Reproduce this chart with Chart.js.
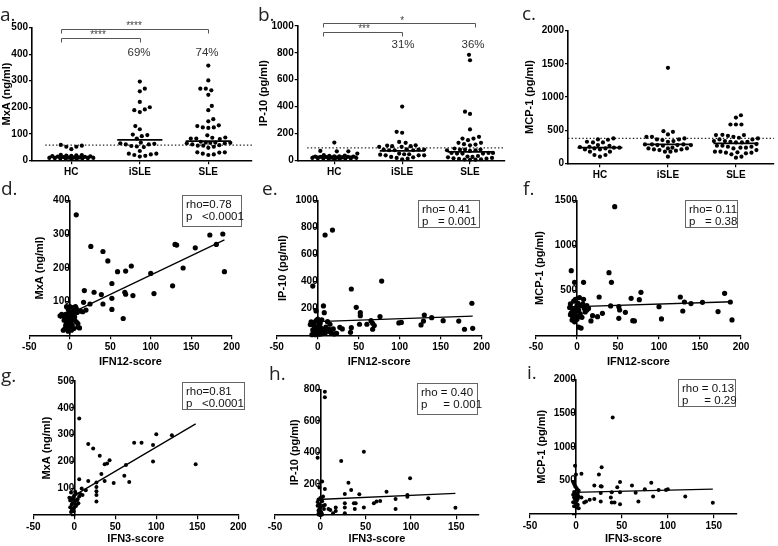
<!DOCTYPE html>
<html><head><meta charset="utf-8">
<script src="https://cdn.jsdelivr.net/npm/chart.js"></script>
<style>
html,body{margin:0;padding:0;background:#fff}
body{width:778px;height:546px;position:relative;overflow:hidden;font-family:"Liberation Sans",Arial,sans-serif}
canvas{position:absolute}
.lbl{position:absolute;font-family:"Open Sans",sans-serif;font-size:19px;line-height:19px;color:#222;white-space:nowrap}
.box{position:absolute;border:1px solid #666;box-sizing:border-box;font-size:11.5px;line-height:12.4px;padding:2px 0 0 3px;white-space:pre;color:#111}
.pct{position:absolute;font-size:11.5px;line-height:12px;color:#333;transform:translate(-50%,-50%);white-space:nowrap}
.star{position:absolute;font-size:10px;line-height:10px;color:#444;transform:translate(-50%,-50%);white-space:nowrap}
</style></head>
<body>
<script>
// ---------- DATA ----------
const categories = ['HC', 'iSLE', 'SLE'];

const mxaHC   = [55, 51, 42, 51, 58, 21, 20, 19, 18, 17, 16, 15, 14, 13, 12, 11, 10, 10, 9, 9, 8, 8, 7, 7, 6, 6, 5];
const mxaISLE = [297, 270, 260, 220, 200, 192, 189, 182, 129, 117, 97, 95, 91, 82, 67, 64, 62, 60, 60, 54, 52, 50, 35, 25, 25, 22, 20, 17, 14];
const mxaSLE  = [357, 301, 270, 264, 270, 247, 205, 189, 155, 147, 132, 124, 124, 122, 129, 94, 85, 80, 82, 82, 86, 67, 64, 64, 66, 66, 70, 67, 57, 55, 51, 47, 55, 60, 30, 25, 20, 22, 29, 30];
const mxaMedians = [14, 77, 72];
const mxaCutoff = 57;

const ipHC   = [132, 70, 67, 67, 50, 38, 35, 33, 30, 28, 27, 25, 24, 22, 20, 19, 18, 17, 15, 14, 13, 12, 10, 9, 8, 30, 26];
const ipISLE = [400, 212, 205, 137, 130, 112, 110, 105, 100, 105, 100, 80, 75, 80, 75, 80, 75, 82, 37, 37, 45, 50, 45, 42, 37, 22, 12, 25, 18, 8];
const ipSLE  = [785, 745, 362, 345, 230, 175, 162, 150, 162, 130, 130, 117, 120, 112, 80, 75, 80, 70, 75, 80, 88, 55, 50, 50, 55, 50, 55, 32, 25, 18, 12, 8, 5, 4, 6, 10, 15, 22, 28];
const ipMedians = [30, 70, 62];
const ipCutoff = 93;

const mcpHC   = [375, 360, 355, 325, 315, 315, 275, 265, 250, 245, 235, 235, 225, 225, 210, 210, 175, 175, 125, 125, 100];
const mcpISLE = [1440, 485, 435, 475, 375, 360, 400, 400, 335, 325, 350, 360, 285, 275, 265, 285, 275, 285, 275, 225, 210, 210, 225, 235, 225, 175, 100, 175, 190, 200];
const mcpSLE  = [725, 690, 585, 585, 585, 425, 415, 400, 425, 385, 360, 360, 375, 335, 315, 325, 315, 325, 335, 265, 250, 235, 225, 235, 250, 265, 175, 160, 150, 135, 160, 165, 175, 85, 100, 430, 200, 290];
const mcpMedians = [235, 285, 300];
const mcpCutoff = 375;

const ticksMxA = [0, 100, 200, 300, 400, 500];
const ticksIP = [0, 200, 400, 600, 800, 1000];
const ticksMCP = [0, 500, 1000, 1500, 2000];
const ticksMxA400 = [0, 100, 200, 300, 400];
const ticksMCP1500 = [0, 500, 1000, 1500];
const ticksIP800 = [0, 200, 400, 600, 800];
const ticksIFN12 = [-50, 0, 50, 100, 150, 200];
const ticksIFN3 = [-50, 0, 50, 100, 150];

// d. IFN12-score vs MxA
const ifn12ForMxA = [8, 26, 41, 47, 59, 69, 76, 52, 18, 30, 39, 68, 69, 78, 52, 41, 25, 52, 66, 100, 104, 127, 130, 132, 140, 155, 173, 181, 189, 191, 17, 16, 20, 13,
  -8, -6, -5, -3, -2, 0, 2, 3, 4, 5, 6, 7, 8, -4, -7, -5, -6, -8, -3, -1, 0, 1, 3, 5, 8, 10, 10, 12, -2, 2, -4, 6, 0, -2, 4, 9, 1, -10, -1, -12];
const mxaVsIfn12 = [358, 264, 249, 221, 189, 191, 206, 154, 133, 128, 121, 128, 122, 118, 110, 93, 93, 77, 50, 184, 124, 147, 270, 268, 200, 260, 298, 270, 301, 189, 98, 70, 75, 72,
  58, 55, 62, 50, 65, 70, 58, 48, 60, 72, 55, 85, 80, 85, 45, 30, 20, 15, 25, 35, 28, 40, 30, 20, 40, 35, 25, 22, 12, 15, 40, 45, 85, 78, 82, 68, 52, 62, 60, 58];
const fitMxA12 = [64, 1.15];

// e. IFN12-score vs IP-10
const ifn12ForIP = [18, 9, -6, 41, 78, 188, 7, -2, 8, 47, 52, 52, 76, 130, 139, 129, 153, 172, 99, 102, 126, 179, 189, 65, 67, 69, 67, 60, 51, 41, 40, 27, 30, 19, 15, 12,
  -8, -6, -4, -2, 0, 2, 3, 5, -5, -3, -1, 0, 2, 4, 6, 8, 10, -7, -9, 1, -2, 3, 12, 14, 16, 20, 23, 9, -4, 1, 5, -6];
const ipVsIfn12 = [782, 745, 366, 344, 403, 238, 218, 181, 168, 208, 168, 146, 139, 151, 131, 106, 109, 106, 92, 96, 77, 45, 52, 109, 89, 72, 45, 82, 82, 57, 22, 59, 47, 47, 82, 101,
  100, 80, 95, 110, 120, 105, 60, 50, 20, 5, 15, 40, 30, 10, 25, 40, 60, 5, 80, 70, 60, 90, 30, 45, 20, 10, 15, 15, 50, 8, 115, 40];
const fitIP12 = [101, 0.222];

// f. IFN12-score vs MCP-1
const ifn12ForMCP = [46, -7, 39, 42, -3, 8, 78, 180, 27, 66, 76, 126, 131, 139, 153, 187, 100, 41, 51, 52, 59, 129, 172, 189, 103, 51, 68, 70, 31, 25, 19, 17, 12, 8,
  -8, -6, -4, -2, 0, 2, 4, -5, -3, 0, 3, -7, -1, 1, 5, 7, 9, -9, 2, 5, -4, -2, 6, 10, 12, 14, -6, 3, -8, 0];
const mcpVsIfn12 = [1433, 720, 698, 590, 590, 590, 479, 468, 427, 412, 397, 427, 371, 353, 368, 371, 319, 327, 319, 282, 256, 271, 264, 171, 182, 189, 163, 160, 245, 208, 219, 160, 282, 401,
  350, 300, 260, 400, 330, 280, 240, 200, 150, 180, 210, 250, 300, 360, 330, 350, 300, 310, 90, 80, 380, 220, 200, 260, 330, 300, 170, 420, 230, 270];
const fitMCP12 = [319, 0.29];

// g. IFN3-score vs MxA
const ifn3ForMxA = [6, 17, 23, 31, 43, 37, 40, 33, 6, 17, 37, 27, 48, 27, 27, 27, 27, 63, 61, 67, 73, 82, 96, 96, 100, 119, 148, 14, 10, 9,
  -5, -3, -1, 0, 2, -4, -2, 0, 3, 5, -5, -3, -4, -2, 0, 4, 6, -6, 1, 2, -1, 3, 7, -3];
const mxaVsIfn3 = [360, 265, 249, 222, 205, 190, 193, 154, 134, 128, 128, 122, 120, 105, 90, 76, 51, 187, 147, 124, 270, 270, 200, 262, 302, 298, 190, 93, 76, 100,
  55, 60, 65, 75, 80, 85, 45, 50, 40, 45, 30, 20, 12, 25, 30, 60, 70, 65, 88, 35, 15, 55, 80, 40];
const fitMxA3 = [74, 1.80];

// h. IFN3-score vs IP-10
const ifn3ForIP = [5, 5, -3, 23, 48, 99, 2, -1, 5, 31, 34, 27, 43, 73, 96, 96, 83, 119, 66, 62, 59, 39, 37, 27, 27, 48, 17, 38, 83, 149, 27, 17, 11, 9, 5, 14,
  -2, 0, 2, -3, 0, -2, 1, -1, 2, 0, -3, 3, -1, 4, 1, -2, 0, 3, -1, 1];
const ipVsIfn3 = [785, 749, 366, 345, 404, 235, 214, 176, 167, 207, 161, 135, 133, 150, 129, 118, 104, 108, 91, 87, 76, 76, 76, 76, 49, 49, 49, 40, 40, 48, 13, 27, 34, 40, 66, 13,
  100, 110, 90, 85, 50, 30, 15, 5, 5, 25, 60, 120, 70, 40, 100, 10, 0, 60, 40, 20];
const fitIP3 = [101, 0.257];

// i. IFN3-score vs MCP-1
const ifn3ForMCP = [40, -1, 0, 6, 25, 28, 20, 28, 48, 61, 82, 65, 75, 90, 98, 100, 84, 119, 149, 48, 39, 45, 27, 27, 27, 38, 39, 42, 48, 68, 20, 15, 11, 9, 6,
  -3, -2, -1, 0, 1, 2, 3, -2, 0, 2, -3, -1, 1, 3, -2, 0, 2, -1, 1, -3, 0, 2, -2, 1, 3];
const mcpVsIfn3 = [1433, 720, 590, 600, 590, 698, 427, 412, 479, 427, 468, 320, 370, 360, 360, 370, 265, 265, 171, 325, 325, 400, 415, 315, 190, 250, 175, 175, 150, 190, 225, 215, 190, 175, 250,
  480, 450, 420, 400, 380, 360, 350, 330, 310, 300, 290, 280, 270, 260, 250, 240, 230, 220, 200, 180, 160, 140, 120, 100, 90];
const fitMCP3 = [325, 0.33];

// ---------- CHART SETUP ----------
Chart.defaults.font.family = '"Liberation Sans", Arial, sans-serif';
Chart.defaults.font.size = 10;
Chart.defaults.font.weight = 'bold';
Chart.defaults.color = '#000';

const TITLE_FONT = {size: 11, weight: 'bold'};
const HALF_LH = 6.6;

function canvasAt(r) {
  const c = document.createElement('canvas');
  c.width = r.w; c.height = r.h;
  c.style.left = r.x + 'px'; c.style.top = r.y + 'px';
  document.body.appendChild(c);
  return c;
}
function gridOpts(len) {
  return {drawOnChartArea: false, drawTicks: true, tickLength: len, color: '#000', lineWidth: 1.2};
}
const borderOpts = {display: true, color: '#000', width: 1.6};

const swarmPlugin = {
  id: 'swarm',
  afterDatasetsUpdate(chart) {
    const xs = chart.scales.x;
    chart.data.datasets.forEach((ds, di) => {
      if (ds.swarm === undefined) return;
      const pts = chart.getDatasetMeta(di).data.slice().sort((a, b) => b.y - a.y);
      const cx = xs.getPixelForValue(ds.swarm);
      const gap = 5.4, maxW = 23, placed = [];
      pts.forEach((p, n) => {
        const sgn = n % 2 ? 1 : -1;
        let best = 0, bestD = -1;
        for (let k = 0; k <= maxW && bestD !== Infinity; k += 0.5) {
          for (const s of (k ? [sgn * k, -sgn * k] : [0])) {
            let m = Infinity;
            for (const q of placed) m = Math.min(m, Math.hypot(q.x - cx - s, q.y - p.y));
            if (m >= gap) { best = s; bestD = Infinity; break; }
            if (m > bestD) { bestD = m; best = s; }
          }
        }
        p.x = cx + best;
        placed.push(p);
      });
    });
  }
};

const bracketPlugin = {
  id: 'brackets',
  afterDatasetsDraw(chart, args, opts) {
    const items = opts && opts.items;
    if (!items) return;
    const {ctx} = chart, x = chart.scales.x, y = chart.scales.y;
    ctx.save();
    ctx.strokeStyle = '#555'; ctx.lineWidth = 1;
    items.forEach(b => {
      const x1 = Math.round(x.getPixelForValue(b.from)) + 0.5;
      const x2 = Math.round(x.getPixelForValue(b.to)) + 0.5;
      const yy = Math.round(y.getPixelForValue(b.y)) + 0.5;
      ctx.beginPath();
      ctx.moveTo(x1, yy + 4); ctx.lineTo(x1, yy); ctx.lineTo(x2, yy); ctx.lineTo(x2, yy + 4);
      ctx.stroke();
    });
    ctx.restore();
  }
};

function groupChart(p) {
  const cv = p.canvas, area = p.area;
  const el = canvasAt(cv);
  const yW = area.l - cv.x, xH = cv.y + cv.h - area.b;
  const datasets = [];
  p.groups.forEach((vals, g) => datasets.push({
    type: 'scatter', data: vals.map(v => ({x: g, y: v})), swarm: g,
    pointRadius: 2.1, pointBackgroundColor: '#000', pointBorderWidth: 0, clip: false
  }));
  p.medians.forEach((m, g) => datasets.push({
    type: 'line', data: [{x: g - 0.33, y: m}, {x: g + 0.33, y: m}],
    borderColor: '#000', borderWidth: 1.7, pointRadius: 0, clip: false
  }));
  datasets.push({
    type: 'line', data: [{x: p.cutFrom, y: p.cutoff}, {x: p.xMax, y: p.cutoff}],
    borderColor: '#222', borderWidth: 1.3, borderDash: [1.4, 2.2], pointRadius: 0, clip: false
  });
  new Chart(el, {
    type: 'scatter',
    data: {datasets},
    options: {
      responsive: false, animation: false, events: [],
      layout: {padding: {left: 0, top: area.t - cv.y, right: cv.x + cv.w - area.r, bottom: 0}},
      plugins: {legend: {display: false}, tooltip: {enabled: false}, brackets: {items: p.brackets}},
      scales: {
        x: {
          type: 'linear', min: p.xMin, max: p.xMax,
          afterBuildTicks: s => { s.ticks = categories.map((c, i) => ({value: i})); },
          ticks: {callback: v => categories[v], padding: 2, autoSkip: false, maxRotation: 0},
          grid: gridOpts(4), border: borderOpts,
          afterFit: s => { s.height = xH; s.paddingLeft = 0; s.paddingRight = 0; }
        },
        y: {
          type: 'linear', min: 0, max: p.yMax,
          afterBuildTicks: s => { s.ticks = p.yTicks.map(v => ({value: v})); },
          ticks: {callback: v => String(v), padding: 1},
          title: {display: true, text: p.yTitle, font: TITLE_FONT, padding: {top: p.titleX - cv.x - HALF_LH, bottom: 0}},
          grid: gridOpts(3), border: borderOpts,
          afterFit: s => { s.width = yW; s.paddingTop = 0; s.paddingBottom = 0; }
        }
      }
    },
    plugins: [swarmPlugin, bracketPlugin]
  });
}

function scatterChart(p) {
  const cv = p.canvas, area = p.area;
  const el = canvasAt(cv);
  const xH = cv.y + cv.h - area.b;
  const lo = Math.min(...p.x), hi = Math.max(...p.x);
  const datasets = [
    {type: 'scatter', data: p.x.map((v, i) => ({x: v, y: p.y[i]})), pointRadius: p.r,
     pointBackgroundColor: '#000', pointBorderWidth: 0, clip: false},
    {type: 'line', data: [{x: lo, y: p.fit[0] + p.fit[1] * lo}, {x: hi, y: p.fit[0] + p.fit[1] * hi}],
     borderColor: '#000', borderWidth: 1.3, pointRadius: 0, clip: false}
  ];
  new Chart(el, {
    type: 'scatter',
    data: {datasets},
    options: {
      responsive: false, animation: false, events: [],
      layout: {padding: {left: 0, top: area.t - cv.y, right: cv.x + cv.w - area.r, bottom: 0}},
      plugins: {legend: {display: false}, tooltip: {enabled: false}},
      scales: {
        x: {
          type: 'linear', position: 'bottom', min: p.xMin, max: p.xMax,
          afterBuildTicks: s => { s.ticks = p.xTicks.map(v => ({value: v})); },
          ticks: {callback: v => String(v), padding: 2, autoSkip: false, maxRotation: 0},
          title: {display: true, text: p.xTitle, font: TITLE_FONT,
                  padding: {top: 0, bottom: Math.max(0, cv.y + cv.h - p.xTitleY - HALF_LH)}},
          grid: gridOpts(4), border: borderOpts,
          afterFit: s => { s.height = xH; s.paddingLeft = 0; s.paddingRight = 0; }
        },
        y: {
          type: 'linear', position: {x: 0}, min: 0, max: p.yMax,
          afterBuildTicks: s => { s.ticks = p.yTicks.map(v => ({value: v})); },
          ticks: {callback: v => (v === 0 ? '' : String(v)), padding: 2},
          grid: gridOpts(3), border: borderOpts,
          afterFit: s => { s.width = 0; s.paddingTop = 0; s.paddingBottom = 0; }
        },
        yt: {
          type: 'linear', position: 'left',
          ticks: {display: false}, grid: {display: false}, border: {display: false},
          title: {display: true, text: p.yTitle, font: TITLE_FONT, padding: {top: p.titleX - cv.x - HALF_LH, bottom: 0}},
          afterFit: s => { s.width = area.l - cv.x; }
        }
      }
    }
  });
}

// ---------- PANELS ----------
groupChart({
  canvas: {x: 0, y: 0, w: 256, h: 185}, area: {l: 32, t: 27.7, r: 252, b: 160.3},
  xMin: -0.574, xMax: 2.638, cutFrom: -0.38, yMax: 500, yTicks: ticksMxA,
  groups: [mxaHC, mxaISLE, mxaSLE], medians: mxaMedians, cutoff: mxaCutoff,
  yTitle: 'MxA (ng/ml)', titleX: 7,
  brackets: [{from: -0.15, to: 1, y: 460}, {from: -0.15, to: 2, y: 494}]
});
groupChart({
  canvas: {x: 255, y: 0, w: 258, h: 185}, area: {l: 297.7, t: 26, r: 505, b: 160.3},
  xMin: -0.54, xMax: 2.516, cutFrom: -0.4, yMax: 1000, yTicks: ticksIP,
  groups: [ipHC, ipISLE, ipSLE], medians: ipMedians, cutoff: ipCutoff,
  yTitle: 'IP-10 (pg/ml)', titleX: 264.3,
  brackets: [{from: -0.16, to: 1, y: 953}, {from: -0.16, to: 2.07, y: 1024}]
});
groupChart({
  canvas: {x: 515, y: 0, w: 263, h: 185}, area: {l: 568, t: 30.7, r: 778, b: 163.3},
  xMin: -0.47, xMax: 2.56, cutFrom: -0.47, yMax: 2000, yTicks: ticksMCP,
  groups: [mcpHC, mcpISLE, mcpSLE], medians: mcpMedians, cutoff: mcpCutoff,
  yTitle: 'MCP-1 (pg/ml)', titleX: 530,
  brackets: []
});

scatterChart({
  canvas: {x: 0, y: 175, w: 256, h: 195}, area: {l: 29.3, t: 200.7, r: 231.7, b: 335.3},
  x: ifn12ForMxA, y: mxaVsIfn12, fit: fitMxA12, r: 2.6,
  xMin: -50, xMax: 200, xTicks: ticksIFN12, yMax: 400, yTicks: ticksMxA400,
  xTitle: 'IFN12-score', xTitleY: 362, yTitle: 'MxA (ng/ml)', titleX: 40
});
scatterChart({
  canvas: {x: 255, y: 175, w: 258, h: 195}, area: {l: 276.7, t: 200.7, r: 481.7, b: 335.3},
  x: ifn12ForIP, y: ipVsIfn12, fit: fitIP12, r: 2.6,
  xMin: -50, xMax: 200, xTicks: ticksIFN12, yMax: 1000, yTicks: ticksIP,
  xTitle: 'IFN12-score', xTitleY: 362, yTitle: 'IP-10 (pg/ml)', titleX: 283.3
});
scatterChart({
  canvas: {x: 515, y: 175, w: 263, h: 195}, area: {l: 536, t: 200.7, r: 741, b: 335.3},
  x: ifn12ForMCP, y: mcpVsIfn12, fit: fitMCP12, r: 2.6,
  xMin: -50, xMax: 200, xTicks: ticksIFN12, yMax: 1500, yTicks: ticksMCP1500,
  xTitle: 'IFN12-score', xTitleY: 362, yTitle: 'MCP-1 (pg/ml)', titleX: 540
});
scatterChart({
  canvas: {x: 0, y: 355, w: 256, h: 191}, area: {l: 33.3, t: 381, r: 238.3, b: 515.3},
  x: ifn3ForMxA, y: mxaVsIfn3, fit: fitMxA3, r: 2.0,
  xMin: -50, xMax: 200, xTicks: ticksIFN12, yMax: 500, yTicks: ticksMxA,
  xTitle: 'IFN3-score', xTitleY: 540, yTitle: 'MxA (ng/ml)', titleX: 46.7
});
scatterChart({
  canvas: {x: 255, y: 355, w: 258, h: 191}, area: {l: 275, t: 389.3, r: 479, b: 515.3},
  x: ifn3ForIP, y: ipVsIfn3, fit: fitIP3, r: 2.0,
  xMin: -50, xMax: 175, xTicks: ticksIFN3, yMax: 800, yTicks: ticksIP800,
  xTitle: 'IFN3-score', xTitleY: 540, yTitle: 'IP-10 (pg/ml)', titleX: 295
});
scatterChart({
  canvas: {x: 515, y: 355, w: 263, h: 191}, area: {l: 530, t: 379.3, r: 736.7, b: 514.3},
  x: ifn3ForMCP, y: mcpVsIfn3, fit: fitMCP3, r: 2.0,
  xMin: -50, xMax: 175, xTicks: ticksIFN3, yMax: 2000, yTicks: ticksMCP,
  xTitle: 'IFN3-score', xTitleY: 540, yTitle: 'MCP-1 (pg/ml)', titleX: 541.7
});

// ---------- TEXT ANNOTATIONS ----------
function addDiv(cls, text, x, y, extra) {
  const d = document.createElement('div');
  d.className = cls; d.textContent = text;
  d.style.left = x + 'px'; d.style.top = y + 'px';
  if (extra) Object.assign(d.style, extra);
  document.body.appendChild(d);
}
[['a.', 0, 4.8], ['b.', 258, 4.8], ['c.', 522, 3.8],
 ['d.', 1, 178.8], ['e.', 262, 178.8], ['f.', 523, 178.8],
 ['g.', 1, 366.4], ['h.', 269, 364.1], ['i.', 527, 363.1]].forEach(l => addDiv('lbl', l[0], l[1], l[2]));

[['69%', 139, 52], ['74%', 207, 52], ['31%', 403, 44], ['36%', 473, 44]].forEach(t => addDiv('pct', t[0], t[1], t[2]));
[['****', 98, 34.6], ['****', 134, 26.3], ['***', 364, 29], ['*', 402.3, 20.6]].forEach(t => addDiv('star', t[0], t[1], t[2]));

[['rho=0.78\np   <0.0001', 182, 195, 60, 32],
 ['rho= 0.41\np   = 0.001', 418, 200, 62, 28],
 ['rho= 0.11\np   = 0.38', 685, 200, 53, 28],
 ['rho=0.81\np   <0.0001', 182, 382, 63, 28],
 ['rho = 0.40\np     = 0.001', 417, 383, 61, 32],
 ['rho = 0.13\np     = 0.29', 678, 379, 58, 28]].forEach(b =>
  addDiv('box', b[0], b[1], b[2], {width: b[3] + 'px', height: b[4] + 'px'}));
</script>
</body></html>
